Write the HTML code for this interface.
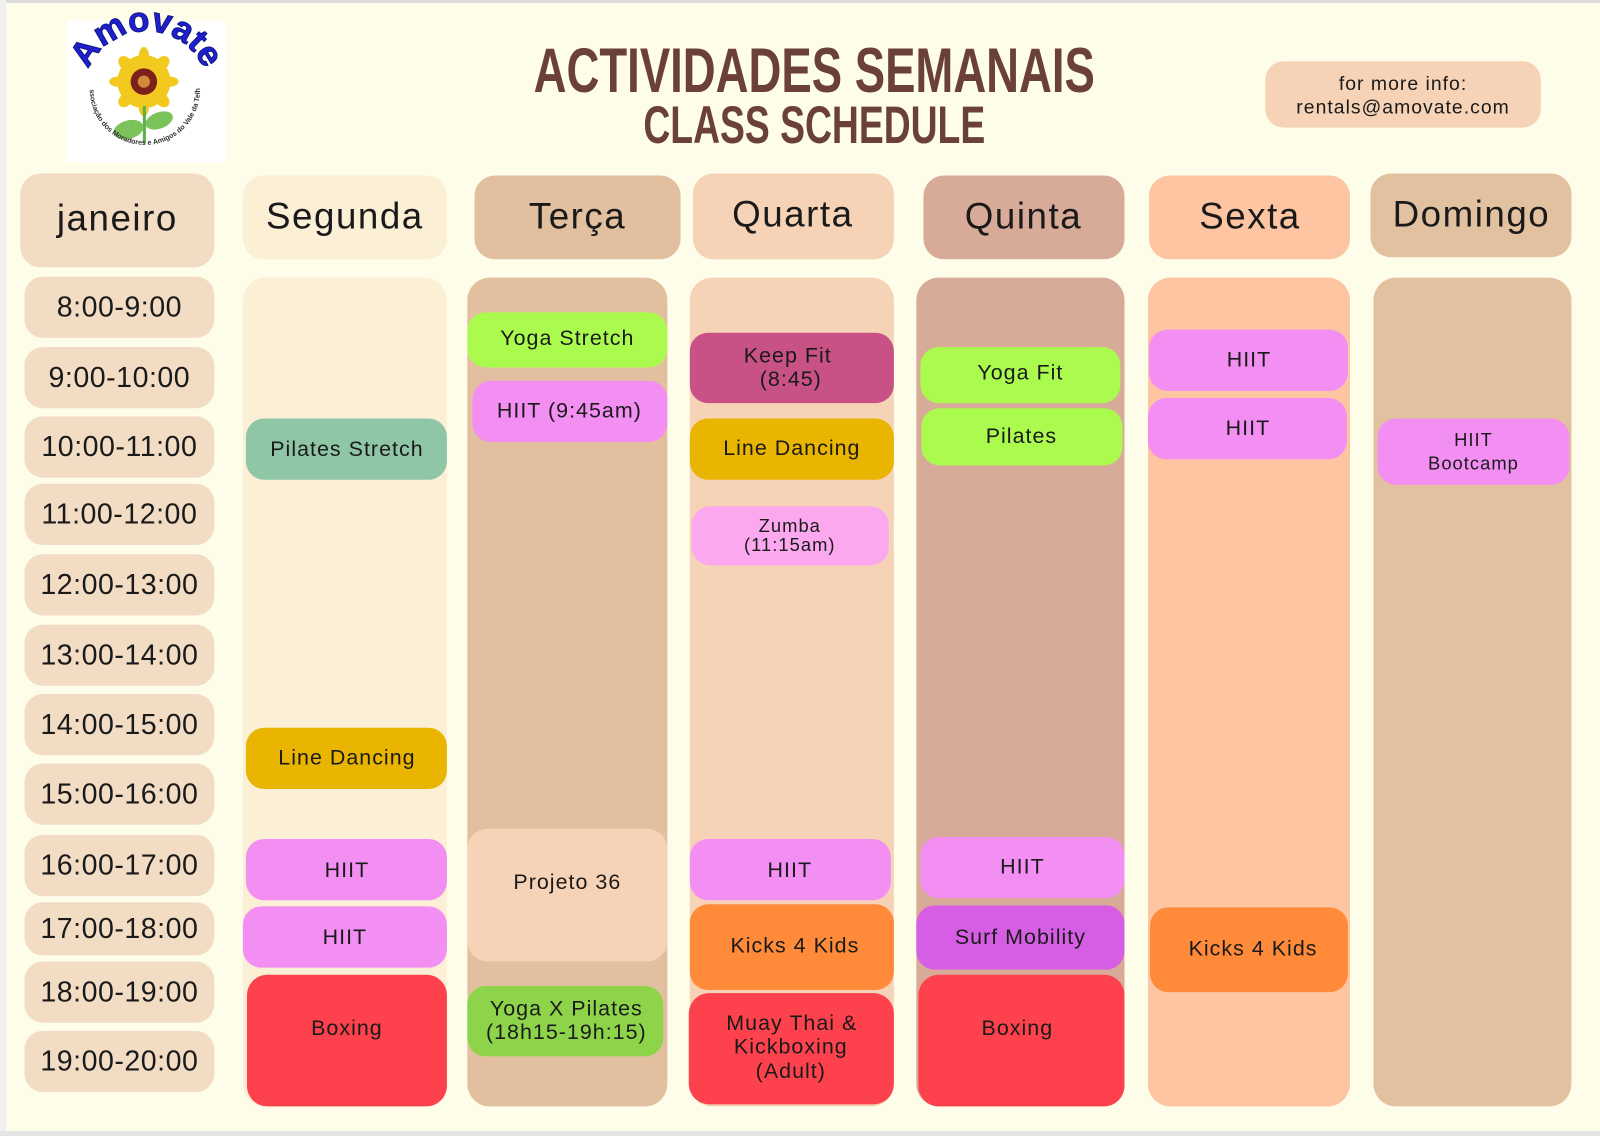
<!DOCTYPE html>
<html><head><meta charset="utf-8"><style>
html,body{margin:0;padding:0;background:#fdfdea;}
svg{display:block}
text{font-family:"Liberation Sans","DejaVu Sans",sans-serif;fill:#1a1a1a}
.d{font-size:36px;letter-spacing:1.5px}
.t{font-size:28px;letter-spacing:0.5px}
.e{font-size:21px;letter-spacing:1px}
.s{font-size:18px;letter-spacing:1px}
.ti{font-family:"Liberation Sans Narrow","Liberation Sans",sans-serif;font-weight:bold;fill:#6b3f3a}
</style></head><body>
<svg width="1600" height="1136" viewBox="0 0 1568 1113" preserveAspectRatio="none" xmlns="http://www.w3.org/2000/svg">
<defs>
<path id="arcTop" d="M 82 92 A 60 60 0 0 1 205 92"/>
<path id="arcBot" d="M 88 88 A 54 54 0 0 0 196 88"/>
</defs>
<rect x="0" y="0" width="1568" height="1113" fill="#fdfdea"/>
<rect x="0" y="0" width="1568" height="3" fill="#dcdcdc"/>
<rect x="0" y="0" width="6" height="1113" fill="#f0f0f0"/>
<rect x="0" y="1108" width="1568" height="5" fill="#e4e4e4"/>

<!-- logo -->
<rect x="66" y="20" width="155" height="139" fill="#ffffff"/>
<g fill="#f2c91e">
<circle cx="141" cy="80" r="26"/>
<ellipse cx="141" cy="55" rx="5" ry="9"/>
<ellipse cx="141" cy="105" rx="5" ry="9"/>
<ellipse cx="116" cy="80" rx="9" ry="5"/>
<ellipse cx="166" cy="80" rx="9" ry="5"/>
<ellipse cx="123" cy="62" rx="6" ry="8" transform="rotate(-45 123 62)"/>
<ellipse cx="159" cy="62" rx="6" ry="8" transform="rotate(45 159 62)"/>
<ellipse cx="123" cy="98" rx="6" ry="8" transform="rotate(45 123 98)"/>
<ellipse cx="159" cy="98" rx="6" ry="8" transform="rotate(-45 159 98)"/>
</g>
<circle cx="141" cy="80" r="13" fill="#7d1f1a"/>
<circle cx="141" cy="80" r="6" fill="#d08a3a"/>
<rect x="140" y="104" width="3" height="36" fill="#5ab04a"/>
<ellipse cx="126" cy="127" rx="15" ry="9" fill="#7cc25a" transform="rotate(-15 126 127)"/>
<ellipse cx="156" cy="118" rx="14" ry="8" fill="#7cc25a" transform="rotate(-20 156 118)"/>
<text style="font-size:34px;font-weight:bold;fill:#1f1fd0;stroke:#111a80;stroke-width:1"><textPath href="#arcTop" startOffset="50%" text-anchor="middle">Amovate</textPath></text>
<text style="font-size:7px;font-weight:bold;fill:#333"><textPath href="#arcBot" startOffset="50%" text-anchor="middle">Associação dos Moradores e Amigos do Vale da Telha</textPath></text>

<!-- title -->
<text class="ti" x="798" y="90" text-anchor="middle" font-size="62" textLength="550" lengthAdjust="spacingAndGlyphs">ACTIVIDADES SEMANAIS</text>
<text class="ti" x="798" y="140" text-anchor="middle" font-size="52" textLength="335" lengthAdjust="spacingAndGlyphs">CLASS SCHEDULE</text>

<!-- info -->
<rect x="1240" y="60" width="270" height="65" rx="18" fill="#f6d3b6"/>
<text x="1375" y="88" text-anchor="middle" style="font-size:19px;letter-spacing:1px">for more info:</text>
<text x="1375" y="111" text-anchor="middle" style="font-size:19px;letter-spacing:1px">rentals@amovate.com</text>

<!-- headers -->
<rect x="20" y="170" width="190" height="92" rx="20" fill="#f2dcc4"/>
<text class="d" x="115" y="226" text-anchor="middle">janeiro</text>
<rect x="238" y="172" width="200" height="82" rx="20" fill="#fbefd6"/>
<text class="d" x="338" y="224" text-anchor="middle">Segunda</text>
<rect x="465" y="172" width="202" height="82" rx="20" fill="#e2c09f"/>
<text class="d" x="566" y="224" text-anchor="middle">Terça</text>
<rect x="679" y="170" width="197" height="84" rx="20" fill="#f6d3b6"/>
<text class="d" x="777" y="222" text-anchor="middle">Quarta</text>
<rect x="905" y="172" width="197" height="82" rx="20" fill="#d8aa98"/>
<text class="d" x="1003" y="224" text-anchor="middle">Quinta</text>
<rect x="1126" y="172" width="197" height="82" rx="20" fill="#fec5a2"/>
<text class="d" x="1225" y="224" text-anchor="middle">Sexta</text>
<rect x="1343" y="170" width="197" height="82" rx="20" fill="#e2c1a1"/>
<text class="d" x="1442" y="222" text-anchor="middle">Domingo</text>

<!-- times -->
<g fill="#f2dcc4">
<rect x="24" y="271" width="186" height="60" rx="18"/>
<rect x="24" y="340" width="186" height="60" rx="18"/>
<rect x="24" y="408" width="186" height="60" rx="18"/>
<rect x="24" y="474" width="186" height="60" rx="18"/>
<rect x="24" y="543" width="186" height="60" rx="18"/>
<rect x="24" y="612" width="186" height="60" rx="18"/>
<rect x="24" y="680" width="186" height="60" rx="18"/>
<rect x="24" y="748" width="186" height="60" rx="18"/>
<rect x="24" y="818" width="186" height="60" rx="18"/>
<rect x="24" y="884" width="186" height="52" rx="18"/>
<rect x="24" y="942" width="186" height="60" rx="18"/>
<rect x="24" y="1010" width="186" height="60" rx="18"/>
</g>
<g text-anchor="middle">
<text class="t" x="117" y="310">8:00-9:00</text>
<text class="t" x="117" y="379">9:00-10:00</text>
<text class="t" x="117" y="447">10:00-11:00</text>
<text class="t" x="117" y="513">11:00-12:00</text>
<text class="t" x="117" y="582">12:00-13:00</text>
<text class="t" x="117" y="651">13:00-14:00</text>
<text class="t" x="117" y="719">14:00-15:00</text>
<text class="t" x="117" y="787">15:00-16:00</text>
<text class="t" x="117" y="857">16:00-17:00</text>
<text class="t" x="117" y="919">17:00-18:00</text>
<text class="t" x="117" y="981">18:00-19:00</text>
<text class="t" x="117" y="1049">19:00-20:00</text>
</g>

<!-- columns -->
<rect x="238" y="272" width="200" height="812" rx="22" fill="#fbefd6"/>
<rect x="458" y="272" width="196" height="812" rx="22" fill="#e2c09f"/>
<rect x="676" y="272" width="200" height="812" rx="22" fill="#f6d3b6"/>
<rect x="898" y="272" width="204" height="812" rx="22" fill="#d8aa98"/>
<rect x="1125" y="272" width="198" height="812" rx="22" fill="#fec5a2"/>
<rect x="1346" y="272" width="194" height="812" rx="22" fill="#e2c1a1"/>

<!-- events -->
<rect x="241" y="410" width="197" height="60" rx="18" fill="#8fc6a5"/>
<rect x="241" y="713" width="197" height="60" rx="18" fill="#e9b500"/>
<rect x="241" y="822" width="197" height="60" rx="18" fill="#f38ef3"/>
<rect x="238" y="888" width="200" height="60" rx="18" fill="#f38ef3"/>
<rect x="242" y="955" width="196" height="129" rx="20" fill="#fe424d"/>

<rect x="458" y="306" width="196" height="54" rx="18" fill="#aafb4e"/>
<rect x="463" y="373" width="191" height="60" rx="18" fill="#f38ef3"/>
<rect x="458" y="812" width="196" height="130" rx="20" fill="#f6d3b6"/>
<rect x="458" y="966" width="192" height="69" rx="18" fill="#8ed44a"/>

<rect x="676" y="326" width="200" height="69" rx="18" fill="#c85186"/>
<rect x="676" y="410" width="200" height="60" rx="18" fill="#e9b500"/>
<rect x="678" y="496" width="193" height="58" rx="18" fill="#fca8ee"/>
<rect x="676" y="822" width="197" height="60" rx="18" fill="#f38ef3"/>
<rect x="676" y="886" width="200" height="84" rx="18" fill="#fe8a3a"/>
<rect x="675" y="973" width="201" height="109" rx="20" fill="#fe424d"/>

<rect x="902" y="340" width="196" height="55" rx="18" fill="#aafb4e"/>
<rect x="903" y="400" width="197" height="56" rx="18" fill="#aafb4e"/>
<rect x="902" y="820" width="200" height="60" rx="18" fill="#f38ef3"/>
<rect x="898" y="887" width="204" height="63" rx="18" fill="#d65ee5"/>
<rect x="900" y="955" width="202" height="129" rx="20" fill="#fe424d"/>

<rect x="1126" y="323" width="195" height="60" rx="18" fill="#f38ef3"/>
<rect x="1125" y="390" width="195" height="60" rx="18" fill="#f38ef3"/>
<rect x="1127" y="889" width="194" height="83" rx="18" fill="#fe8a3a"/>

<rect x="1350" y="410" width="188" height="65" rx="18" fill="#f38ef3"/>

<g text-anchor="middle">
<text class="e" x="340" y="447">Pilates Stretch</text>
<text class="e" x="340" y="749">Line Dancing</text>
<text class="e" x="340" y="859">HIIT</text>
<text class="e" x="338" y="925">HIIT</text>
<text class="e" x="340" y="1014">Boxing</text>

<text class="e" x="556" y="338">Yoga Stretch</text>
<text class="e" x="558" y="409">HIIT (9:45am)</text>
<text class="e" x="556" y="871">Projeto 36</text>
<text class="e" x="555" y="995">Yoga X Pilates</text>
<text class="e" x="555" y="1018">(18h15-19h:15)</text>

<text class="e" x="772" y="355">Keep Fit</text>
<text class="e" x="775" y="378">(8:45)</text>
<text class="e" x="776" y="446">Line Dancing</text>
<text class="s" x="774" y="521">Zumba</text>
<text class="s" x="774" y="540">(11:15am)</text>
<text class="e" x="774" y="859">HIIT</text>
<text class="e" x="779" y="933">Kicks 4 Kids</text>
<text class="e" x="776" y="1009">Muay Thai &amp;</text>
<text class="e" x="775" y="1032">Kickboxing</text>
<text class="e" x="775" y="1056">(Adult)</text>

<text class="e" x="1000" y="372">Yoga Fit</text>
<text class="e" x="1001" y="434">Pilates</text>
<text class="e" x="1002" y="856">HIIT</text>
<text class="e" x="1000" y="925">Surf Mobility</text>
<text class="e" x="997" y="1014">Boxing</text>

<text class="e" x="1224" y="359">HIIT</text>
<text class="e" x="1223" y="426">HIIT</text>
<text class="e" x="1228" y="936">Kicks 4 Kids</text>

<text class="s" x="1444" y="437">HIIT</text>
<text class="s" x="1444" y="460">Bootcamp</text>
</g>
</svg>
</body></html>
